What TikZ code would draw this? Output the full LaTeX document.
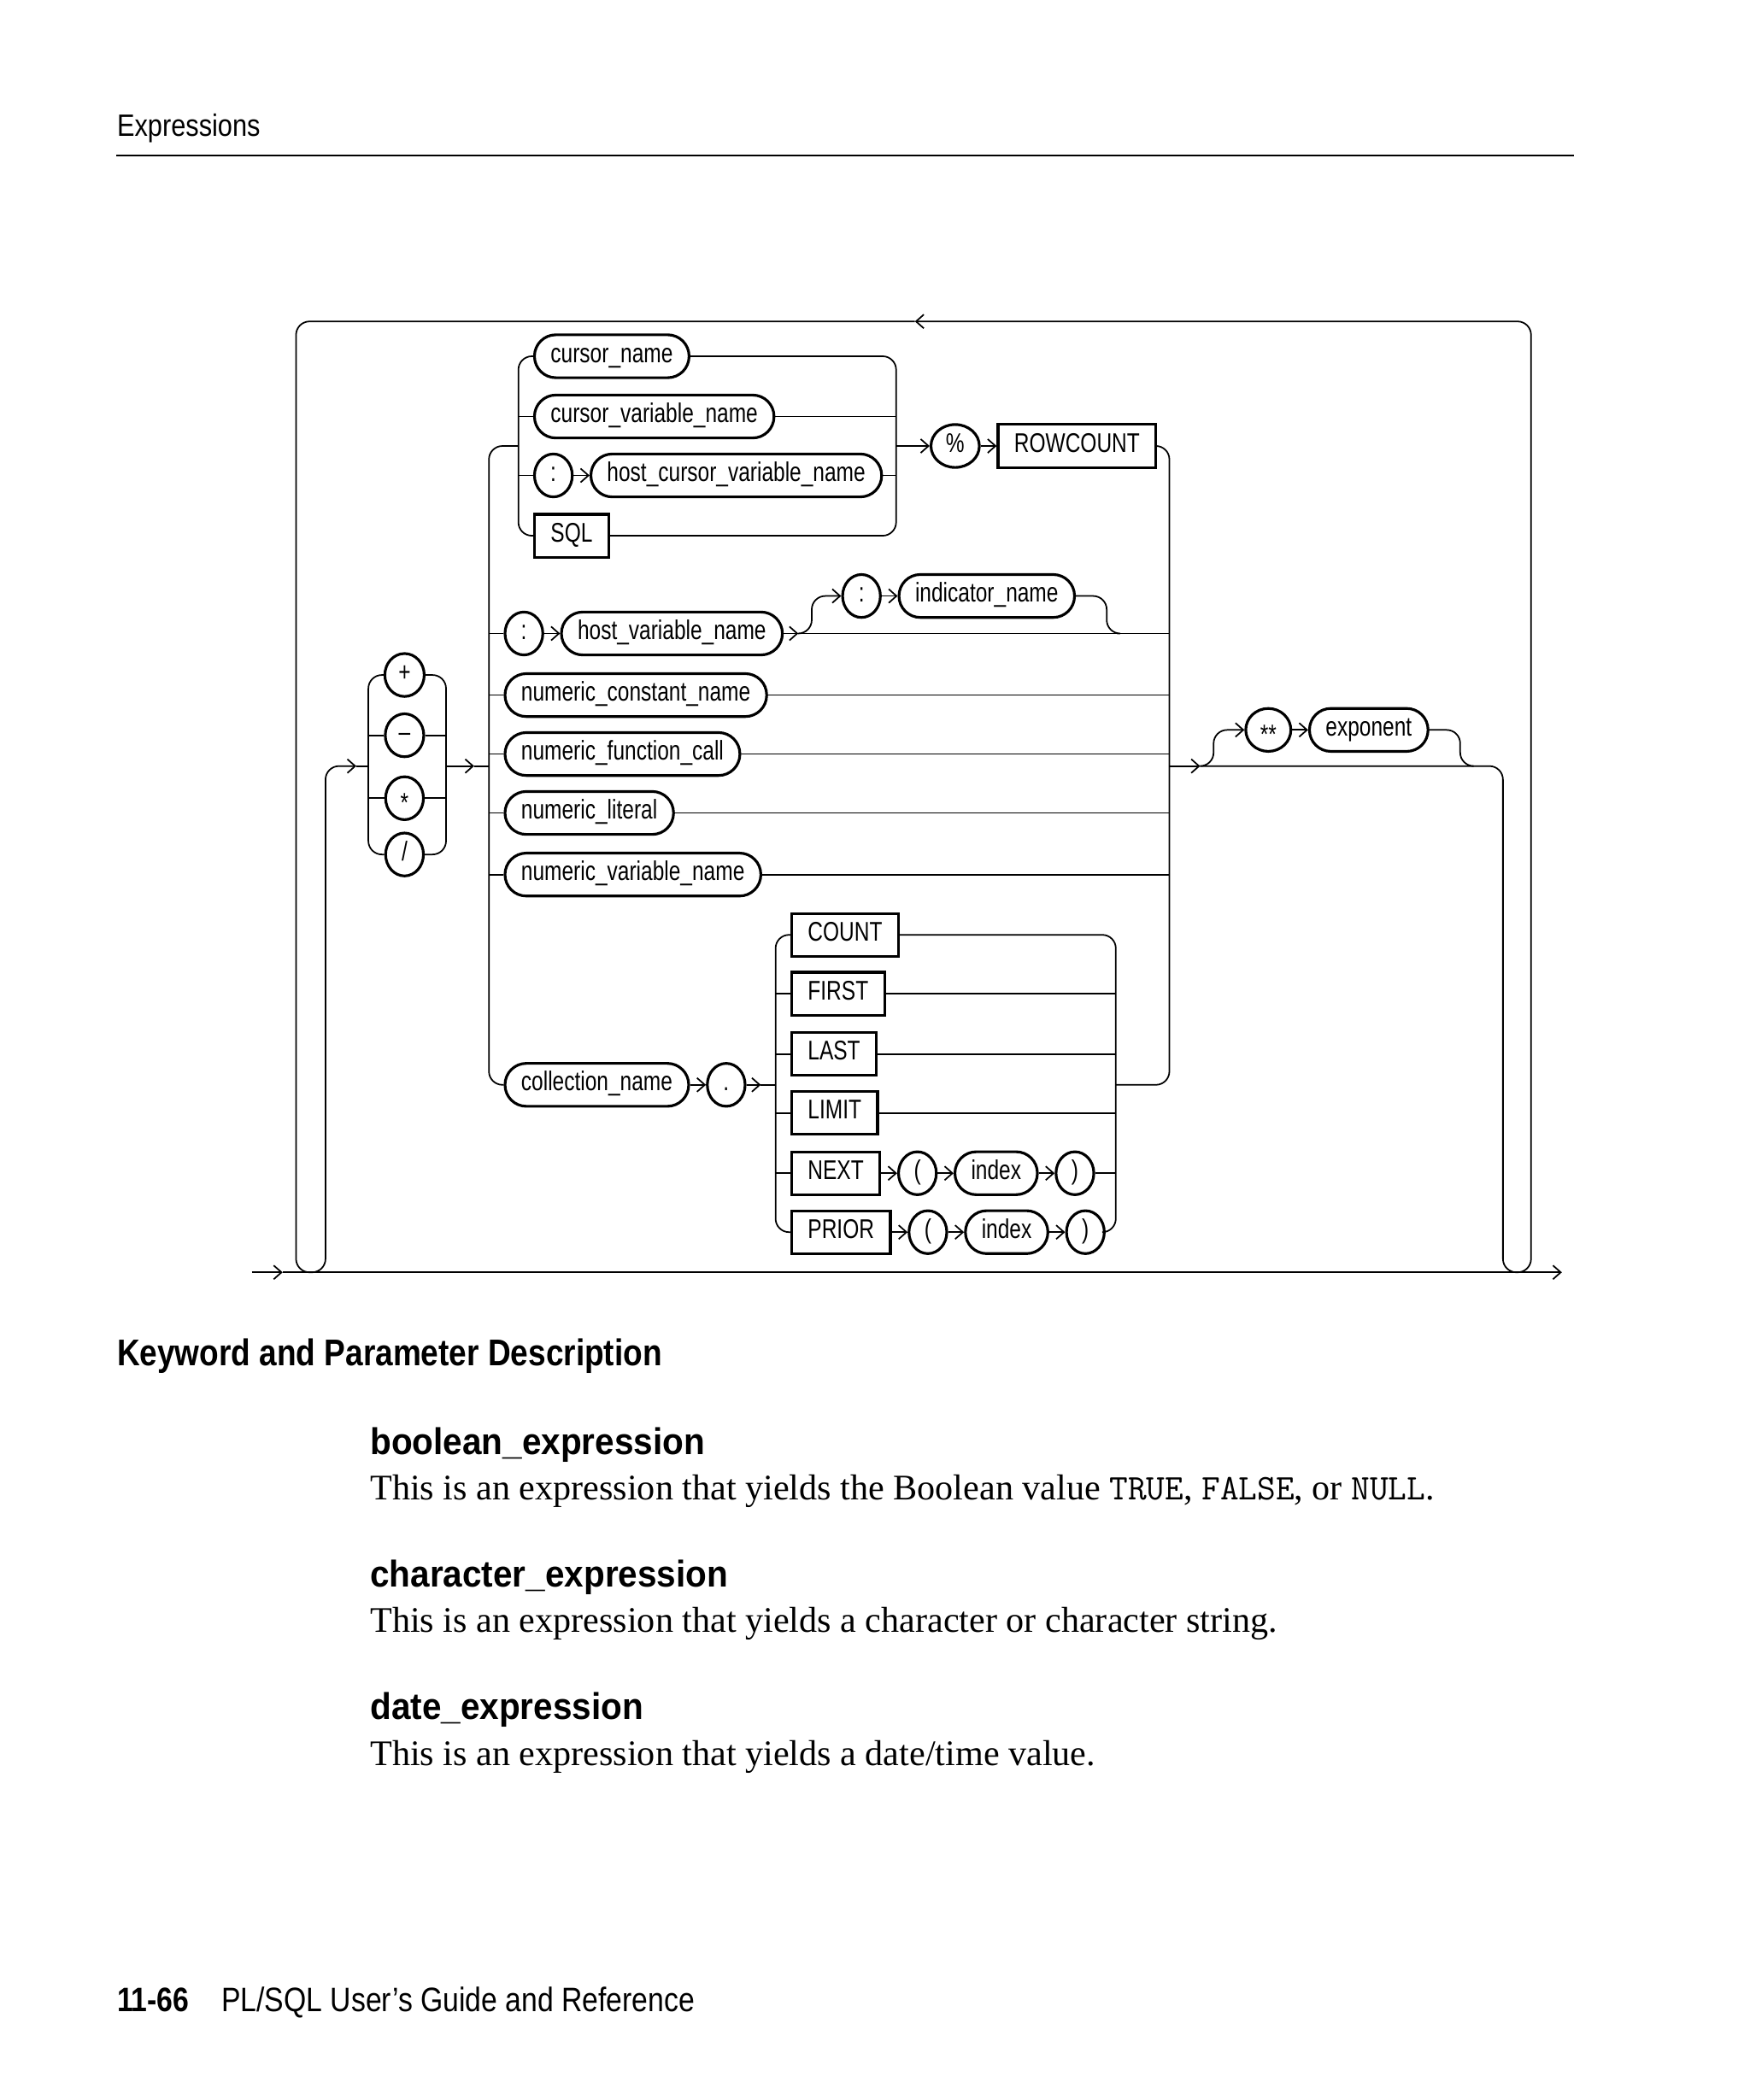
\documentclass[tikz,border=0pt]{standalone}
\usepackage{fontspec}
\setmainfont{Liberation Serif}
\newfontfamily\railfont[FakeStretch=0.85]{Liberation Sans}
\newfontfamily\nodefont[FakeStretch=0.775]{Liberation Sans}
\newfontfamily\headfont[FakeStretch=0.93]{Liberation Sans}
\newcommand\sqlword[1]{{\ttfamily\fontsize{12}{14}\selectfont #1}}
\usepackage{tikz}
\usetikzlibrary{shapes,arrows.meta,positioning}

\begin{document}
\begin{tikzpicture}[
    x=0.01568cm, y=-0.01568cm,
    node distance=5.3pt,
    rail/.style={draw, line width=0.5pt, rounded corners=4.5pt},
    line/.style={rail, -{Straight Barb[length=2.6pt,width=4.6pt]}},
    item/.style={draw, line width=0.9pt, font=\nodefont\fontsize{9}{10}\selectfont, minimum height=14.3pt, inner xsep=5.4pt, inner ysep=0pt, text height=6.4pt, text depth=2.4pt},
    term/.style={item, rectangle, rounded corners=7.1pt},
    kw/.style={item, rectangle},
    sym/.style={item, ellipse, inner xsep=2.6pt, minimum width=12.6pt},
    txt/.style={inner sep=0pt, anchor=base west}
]
    \useasboundingbox (0,0) rectangle (1306,1568);

    % Page header
    \node [txt, font=\railfont\fontsize{10.3}{12}\selectfont] (title) at (87,102) {Expressions};
    \draw [line width=0.6pt] (87,116) -- (1175,116);

    % Cursor attribute
    \node [term, anchor=west] (cname) at (398,266) {cursor\_name};
    \node [term, anchor=west] (cvname) at (398,311) {cursor\_variable\_name};
    \node [sym, anchor=west] (hccolon) at (398,355) {:};
    \node [term, right=of hccolon] (hcvname) {host\_cursor\_variable\_name};
    \node [kw, anchor=west] (sql) at (398,400) {SQL};
    \node [sym, anchor=west] (pct) at (694,333) {\%};
    \node [kw, right=of pct] (rowcount) {ROWCOUNT};

    % Host variable with indicator
    \node [sym, anchor=west] (hvcolon) at (376,473) {:};
    \node [term, right=of hvcolon] (hvname) {host\_variable\_name};
    \node [sym, anchor=west] (indcolon) at (628,445) {:};
    \node [term, right=of indcolon] (indname) {indicator\_name};

    % Numeric items
    \node [term, anchor=west] (ncname) at (376,519) {numeric\_constant\_name};
    \node [term, anchor=west] (nfcall) at (376,563) {numeric\_function\_call};
    \node [term, anchor=west] (nliteral) at (376,607) {numeric\_literal};
    \node [term, anchor=west] (nvname) at (376,653) {numeric\_variable\_name};

    % Collection methods
    \node [term, anchor=west] (collname) at (376,810) {collection\_name};
    \node [sym, right=of collname] (dot) {.};
    \node [kw, anchor=west] (count) at (590,698) {COUNT};
    \node [kw, anchor=west] (first) at (590,742) {FIRST};
    \node [kw, anchor=west] (last) at (590,787) {LAST};
    \node [kw, anchor=west] (limit) at (590,831) {LIMIT};
    \node [kw, anchor=west] (next) at (590,876) {NEXT};
    \node [sym, right=of next] (nlpar) {(};
    \node [term, right=of nlpar] (nindex) {index};
    \node [sym, right=of nindex] (nrpar) {)};
    \node [kw, anchor=west] (prior) at (590,920) {PRIOR};
    \node [sym, right=of prior] (plpar) {(};
    \node [term, right=of plpar] (pindex) {index};
    \node [sym, right=of pindex] (prpar) {)};

    % Operators
    \node [sym] (plus) at (302,504) {+};
    \node [sym] (minus) at (302,549) {–};
    \node [sym] (times) at (302,596) {\raisebox{-2.5pt}{*}};
    \node [sym] (divide) at (302,638) {/};

    % Exponent
    \node [sym, anchor=west] (pow) at (929,545) {\raisebox{-2.5pt}{\small **}};
    \node [term, right=of pow] (expo) {exponent};

    % Junction points
    \coordinate (start) at (188,950);
    \coordinate (startarr) at (211,950);
    \coordinate (finish) at (1166,950);
    \coordinate (toparr) at (683,240);
    \coordinate (opin) at (266,572);
    \coordinate (opl) at (275,572);
    \coordinate (opr) at (333,572);
    \coordinate (opout) at (354,572);
    \coordinate (mainl) at (365,572);
    \coordinate (mr) at (873,572);
    \coordinate (expfork) at (896,572);
    \coordinate (expjoin) at (1099,572);
    \coordinate (cgl) at (387,333);
    \coordinate (cgr) at (669,333);
    \coordinate (hvfork) at (596,473);
    \coordinate (hvjoin) at (834,473);
    \coordinate (dotout) at (568,810);
    \coordinate (mgl) at (579,810);
    \coordinate (mgr) at (833,810);

    % Main line and repeat loop
    \path [line] (start) -- (startarr);
    \path [line] (startarr) -- (finish);
    \path [line] (expfork) -- (1122,572) -- (1122,950) -- (1143,950) -- (1143,240) -- (toparr);
    \path [line] (toparr) -- (221,240) -- (221,950) -- (243,950) -- (243,572) -- (opin);

    % Operator choice
    \path [rail] (opin) -- (opl);
    \path [rail] (plus.west) -| (opl) |- (divide.west);
    \path [rail] (opl |- minus) -- (minus);
    \path [rail] (opl |- times) -- (times);
    \path [rail] (plus.east) -| (opr) |- (divide.east);
    \path [rail] (minus) -- (opr |- minus);
    \path [rail] (times) -- (opr |- times);
    \path [line] (opr) -- (opout);
    \path [rail] (opout) -- (mainl);

    % Main choice rails
    \path [rail] (cgl) -| (mainl) |- (collname.west);
    \path [rail] (mainl |- hvcolon) -- (hvcolon);
    \path [rail] (mainl |- ncname) -- (ncname);
    \path [rail] (mainl |- nfcall) -- (nfcall);
    \path [rail] (mainl |- nliteral) -- (nliteral);
    \path [rail] (mainl |- nvname) -- (nvname);
    \path [rail] (rowcount.east) -| (mr) |- (mgr);
    \path [rail] (ncname) -- (mr |- ncname);
    \path [rail] (nfcall) -- (mr |- nfcall);
    \path [rail] (nliteral) -- (mr |- nliteral);
    \path [rail] (nvname) -- (mr |- nvname);

    % Cursor group
    \path [rail] (cname.west) -| (cgl) |- (sql.west);
    \path [rail] (cgl |- cvname) -- (cvname);
    \path [rail] (cgl |- hccolon) -- (hccolon);
    \path [line] (hccolon) -- (hcvname);
    \path [rail] (cname.east) -| (cgr) |- (sql.east);
    \path [rail] (cvname) -- (cgr |- cvname);
    \path [rail] (hcvname) -- (cgr |- hcvname);
    \path [line] (cgr) -- (pct);
    \path [line] (pct) -- (rowcount);

    % Host variable row
    \path [line] (hvcolon) -- (hvname);
    \path [line] (hvname) -- (hvfork);
    \path [rail] (hvfork) -- (mr |- hvfork);
    \path [line] (hvfork) -- ++(10,0) |- (indcolon);
    \path [line] (indcolon) -- (indname);
    \path [rail] (indname.east) -- ++(23,0) |- (hvjoin);

    % Collection row
    \path [line] (collname) -- (dot);
    \path [line] (dot) -- (dotout);
    \path [rail] (dotout) -- (mgl);
    \path [rail] (count.west) -| (mgl) |- (prior.west);
    \path [rail] (mgl |- first) -- (first);
    \path [rail] (mgl |- last) -- (last);
    \path [rail] (mgl |- limit) -- (limit);
    \path [rail] (mgl |- next) -- (next);
    \path [rail] (count.east) -| (mgr) |- (prpar.east);
    \path [rail] (first) -- (mgr |- first);
    \path [rail] (last) -- (mgr |- last);
    \path [rail] (limit) -- (mgr |- limit);
    \path [rail] (nrpar) -- (mgr |- nrpar);
    \path [line] (next) -- (nlpar);
    \path [line] (nlpar) -- (nindex);
    \path [line] (nindex) -- (nrpar);
    \path [line] (prior) -- (plpar);
    \path [line] (plpar) -- (pindex);
    \path [line] (pindex) -- (prpar);

    % Exponent branch
    \path [line] (mr) -- (expfork);
    \path [line] (expfork) -- ++(10,0) |- (pow);
    \path [line] (pow) -- (expo);
    \path [rail] (expo.east) -- ++(23,0) |- (expjoin);

    % Description text
    \node [txt, font=\railfont\bfseries\fontsize{12.4}{14}\selectfont] (kpd) at (87,1020) {Keyword and Parameter Description};
    \node [txt, font=\headfont\bfseries\fontsize{12.4}{14}\selectfont] (bexp) at (276,1086) {boolean\_expression};
    \node [txt, font=\fontsize{12}{14}\selectfont] (bdesc) at (276,1120) {This is an expression that yields the Boolean value \sqlword{TRUE}, \sqlword{FALSE}, or \sqlword{NULL}.};
    \node [txt, font=\headfont\bfseries\fontsize{12.4}{14}\selectfont] (cexp) at (276,1185) {character\_expression};
    \node [txt, font=\fontsize{12}{14}\selectfont] (cdesc) at (276,1219) {This is an expression that yields a character or character string.};
    \node [txt, font=\headfont\bfseries\fontsize{12.4}{14}\selectfont] (dexp) at (276,1284) {date\_expression};
    \node [txt, font=\fontsize{12}{14}\selectfont] (ddesc) at (276,1318) {This is an expression that yields a date/time value.};

    % Page footer
    \node [txt, font=\railfont\bfseries\fontsize{11.3}{13}\selectfont] (pageno) at (87,1502) {11-66};
    \node [txt, font=\railfont\fontsize{11.3}{13}\selectfont] (booktitle) at (165,1502) {PL/SQL User’s Guide and Reference};

\end{tikzpicture}
\end{document}
